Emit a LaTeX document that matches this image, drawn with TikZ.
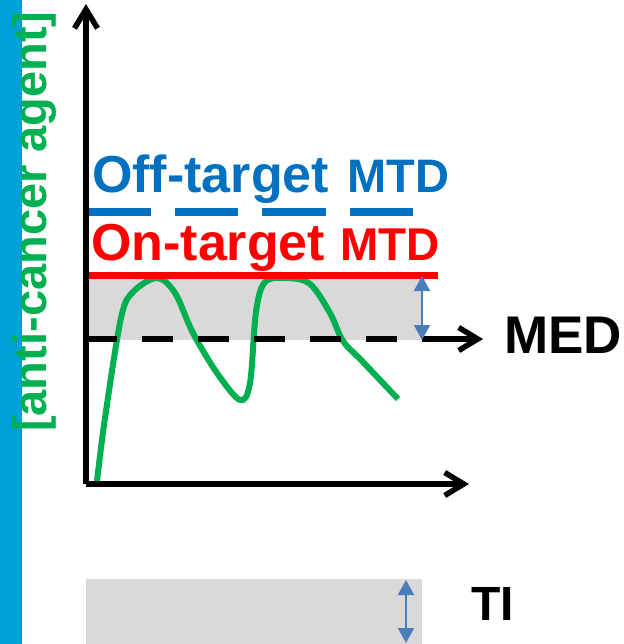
\documentclass[tikz,border=0pt]{standalone}
\usepackage{fontspec}
\setmainfont{Liberation Sans}
\usetikzlibrary{arrows.meta}
\definecolor{barblue}{RGB}{0,160,216}
\definecolor{agentgreen}{RGB}{0,176,80}
\definecolor{offblue}{RGB}{0,112,192}
\definecolor{onred}{RGB}{255,0,0}
\definecolor{bandgray}{RGB}{217,217,217}
\definecolor{gapblue}{RGB}{74,126,187}
\newcommand{\bigfont}[1]{\fontsize{#1}{#1}\selectfont\bfseries}
\tikzset{
  lbl/.style={inner sep=0pt, anchor=base west},
  axisline/.style={line width=5.5pt, line cap=butt,
    -{Straight Barb[length=19pt,width=23pt,line width=5.5pt]}},
  band/.style={fill=bandgray},
  gaparrow/.style={draw=gapblue, line width=2pt,
    {Triangle[length=15pt,width=16pt,fill=gapblue]}-{Triangle[length=15pt,width=16pt,fill=gapblue]}},
  levelcurve/.style={draw=agentgreen, line width=6pt, line join=round}
}
\begin{document}
\begin{tikzpicture}[x=1pt,y=-1pt]
\useasboundingbox (0,0) rectangle (623,644);

% side bar
\fill[barblue] (0,0) rectangle (22,644);

% therapeutic window bands
\fill[band] (86,276) rectangle (422,340);
\fill[band] (86,579) rectangle (422,644);

% key points
\coordinate (O) at (86,484);
\coordinate (ytip) at (86,4);
\coordinate (xtip) at (469,484);
\coordinate (medA) at (86,339);
\coordinate (medB) at (422,339);
\coordinate (medtip) at (483,339);
\coordinate (offA) at (87,212);
\coordinate (offB) at (414,212);
\coordinate (onA) at (86,275.5);
\coordinate (onB) at (438,275.5);

% concentration curve
\draw[levelcurve] plot[smooth, tension=0.55] coordinates {
  (97,481) (105,418) (121,318) (133,292) (157,278) (175,293) (193,333)
  (217,373) (240,400) (250,383) (256,312) (265,282) (287,278) (310,284)
  (330,313) (343,341) (363,362) (398,399)};

% levels
\draw[onred, line width=7pt] (onA) -- (onB);
\draw[offblue, line width=7pt, dash pattern=on 63.5pt off 24pt] (offA) -- (offB);
\draw[black, line width=6.5pt, dash pattern=on 31pt off 25pt] (medA) -- (medB);
\draw[axisline] (medB) -- (medtip);

% axes
\draw[axisline] (O) -- (ytip);
\draw[axisline] (O) -- (xtip);

% window arrows
\coordinate (g1t) at (422,276);
\coordinate (g1b) at (422,340);
\coordinate (g2t) at (406,580);
\coordinate (g2b) at (406,643);
\draw[gaparrow] (g1t) -- (g1b);
\draw[gaparrow] (g2t) -- (g2b);

% labels
\node[lbl, rotate=90, text=agentgreen, font=\bigfont{47pt}] (ylabel) at (46,432)
  {[anti-cancer agent]};
\node[lbl, text=offblue, font=\bigfont{52pt}] (offtxt) at (92,193) {Off-target};
\node[lbl, text=offblue, font=\bigfont{47pt}] (offmtd) at (347,193) {MTD};
\node[lbl, text=onred, font=\bigfont{52pt}] (ontxt) at (91,260) {On-target};
\node[lbl, text=onred, font=\bigfont{46pt}] (onmtd) at (340,260) {MTD};
\node[lbl, font=\bigfont{53pt}] (med) at (504,353) {MED};
\node[lbl, font=\bigfont{48pt}] (ti) at (471,620) {TI};
\end{tikzpicture}
\end{document}
